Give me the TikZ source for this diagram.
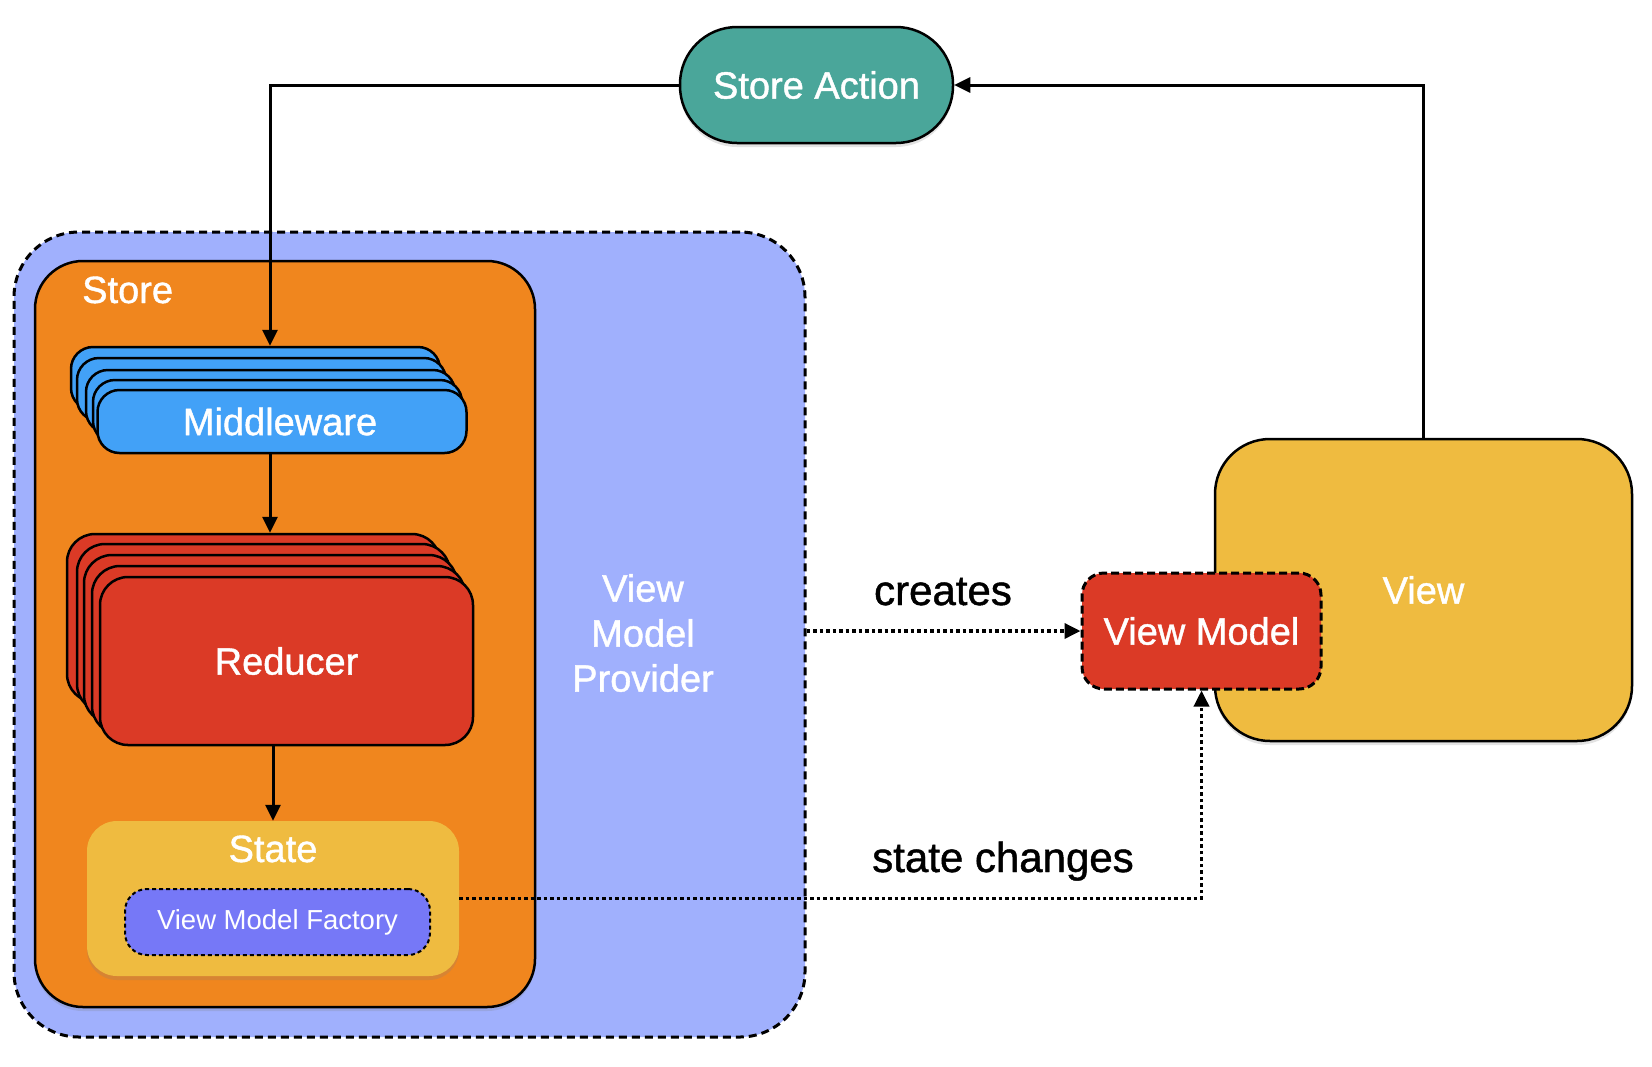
\documentclass[tikz,border=0pt]{standalone}
\usepackage{fontspec}
\setmainfont{Liberation Sans}
\newfontfamily\dgmed[FakeBold=1.1]{Liberation Sans}
\usetikzlibrary{arrows.meta,shadows,calc}
\definecolor{vmpblue}{RGB}{160,176,253}
\definecolor{storeorange}{RGB}{240,134,30}
\definecolor{mwblue}{RGB}{66,161,247}
\definecolor{redbox}{RGB}{219,58,38}
\definecolor{yellowbox}{RGB}{239,187,64}
\definecolor{vmfpurple}{RGB}{118,120,247}
\definecolor{satteal}{RGB}{74,166,154}
\newcommand\dgfont{\dgmed\fontsize{38}{45}\selectfont}
\newcommand\dglblfont{\dgmed\fontsize{42}{50}\selectfont}
\newcommand\dgsmallfont{\fontsize{27.5}{32}\selectfont}
\tikzset{
  shadowed/.style={drop shadow={opacity=0.22,shadow xshift=0pt,shadow yshift=-4pt}},
  box/.style={draw=black, line width=2.5pt, inner sep=0pt, text=white, font=\dgfont},
  vmp/.style={draw=black, fill=vmpblue, line width=3pt, dash pattern=on 8pt off 5pt,
    rounded corners=65pt, minimum width=791pt, minimum height=805pt, inner sep=0pt},
  storebox/.style={box, fill=storeorange, rounded corners=48pt, minimum width=500pt, minimum height=746pt, shadowed},
  mwcard/.style={box, fill=mwblue, rounded corners=22pt, minimum width=369pt, minimum height=63pt},
  rdcard/.style={box, fill=redbox, rounded corners=28pt, minimum width=373pt, minimum height=168pt},
  statebox/.style={fill=yellowbox, rounded corners=30pt, minimum width=372pt, minimum height=155pt, inner sep=0pt, shadowed},
  vmf/.style={draw=black, fill=vmfpurple, line width=2pt, dash pattern=on 4pt off 3pt, rounded corners=22pt,
    minimum width=305pt, minimum height=66pt, inner sep=0pt, text=white, font=\dgsmallfont},
  sabox/.style={box, fill=satteal, rounded corners=57pt, minimum width=273pt, minimum height=116pt, shadowed},
  viewbox/.style={box, fill=yellowbox, rounded corners=55pt, minimum width=417pt, minimum height=302pt, shadowed},
  vmbox/.style={draw=black, fill=redbox, line width=3pt, dash pattern=on 8pt off 4pt, rounded corners=22pt,
    minimum width=239pt, minimum height=116pt, inner sep=0pt, text=white, font=\dgfont},
  lbl/.style={text=white, font=\dgfont, inner sep=0pt},
  cl/.style={text=black, font=\dglblfont, inner sep=0pt},
  conn/.style={line width=3pt, -{Triangle[length=16pt,width=15pt]}},
  dconn/.style={line width=3.5pt, dash pattern=on 3.5pt off 3pt, -{Triangle[length=16pt,width=15pt]}}
}
\begin{document}
\begin{tikzpicture}[x=1pt,y=-1pt]
\useasboundingbox (0,0) rectangle (1652,1066);
\fill[white] (0,0) rectangle (1652,1066);

% View Model Provider and Store
\node[vmp] (vmp) at (409.5,634.5) {};
\node[storebox] (store) at (285,634) {};
\node[lbl, anchor=base west] (storelbl) at (82,303) {Store};

% Middleware stack
\foreach \i/\x/\y in {1/71/347,2/77/358,3/86/370,4/93/380}
  \node[mwcard] (mw\i) at (\x+184.5,\y+31.5) {};
\node[mwcard] (mw5) at (282,421.5) {};
\node[lbl] (mwlbl) at (280,421.5) {Middleware};

% Reducer stack
\foreach \i/\x/\y in {1/67/534,2/77/544,3/84/555,4/92/566}
  \node[rdcard] (rd\i) at (\x+186.5,\y+84) {};
\node[rdcard] (rd5) at (286.5,661) {Reducer};

% State
\node[statebox] (st) at (273,898.5) {};
\node[lbl, anchor=base] (stlbl) at (273,862) {State};
\node[vmf] (vmf) at (277.5,922) {View Model Factory};

% Provider text
\node[lbl, align=center] (vmptxt) at (643,633) {View\\Model\\Provider};

% Store Action, View, View Model
\node[sabox] (sa) at (816.5,85) {Store Action};
\node[viewbox] (view) at (1423.5,590) {View};
\node[vmbox] (vm) at (1201.5,631) {View Model};

% connector labels
\node[cl, anchor=base] (creates) at (943,605) {creates};
\node[cl, anchor=base] (stch) at (1003,872) {state changes};

% connectors
\draw[conn] (sa.west) -| ([xshift=14.5pt]mw1.north);
\draw[conn] ([xshift=-12pt]mw5.south) -- ([xshift=-12pt]mw5.south |- rd1.north);
\draw[conn] (rd5.south -| st.north) -- (st.north);
\draw[dconn] (st.east) -| (vm.south);
\draw[dconn] (vmp.east |- vm.west) -- (vm.west);
\draw[conn] (view.north) |- (sa.east);
\end{tikzpicture}
\end{document}
